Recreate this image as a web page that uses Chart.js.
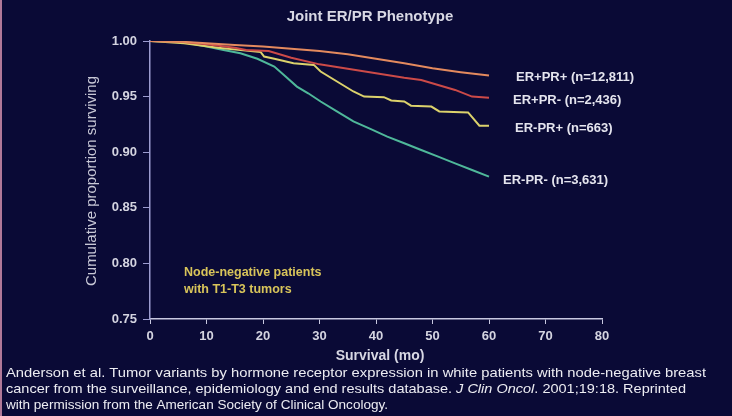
<!DOCTYPE html>
<html>
<head>
<meta charset="utf-8">
<script src="https://cdn.jsdelivr.net/npm/chart.js@4.4.1/dist/chart.umd.min.js"></script>
<style>
  html, body { margin: 0; padding: 0; background: #0a0a36; }
  #wrap { position: relative; width: 732px; height: 416px; box-sizing: border-box; border-left: 2px solid #b07898; }
</style>
</head>
<body>
<div id="wrap"><canvas id="Chart" width="730" height="416"></canvas></div>
<script>
// survival curves (months, cumulative proportion)
const posPosMonths = [0, 5, 10, 15, 20, 25, 30, 35, 40, 45, 50, 55, 60];
const posPosSurv   = [1.000, 0.9995, 0.998, 0.9965, 0.995, 0.993, 0.991, 0.988, 0.984, 0.980, 0.9755, 0.972, 0.969];

const posNegMonths = [0, 5, 10, 15, 17, 21, 25, 30, 35, 40, 45, 48, 54, 57, 60];
const posNegSurv   = [1.000, 0.9995, 0.997, 0.994, 0.992, 0.991, 0.985, 0.979, 0.975, 0.971, 0.967, 0.965, 0.956, 0.950, 0.949];

const negPosMonths = [0, 6, 12, 19.6, 20.2, 22, 25.4, 29, 30.2, 36, 37.9, 41.4, 42.7, 45, 46.2, 49.8, 51.2, 56.3, 58.3, 60];
const negPosSurv   = [1.000, 0.998, 0.994, 0.990, 0.986, 0.984, 0.980, 0.9785, 0.9725, 0.9546, 0.950, 0.9495, 0.9465, 0.9456, 0.9418, 0.941, 0.9367, 0.9358, 0.9238, 0.9238];

const negNegMonths = [0, 5, 7, 10, 13, 16, 19, 22, 24, 26, 28, 30.2, 33, 36, 39, 42, 45, 48, 51, 54, 57, 60];
const negNegSurv   = [1.000, 0.999, 0.998, 0.995, 0.992, 0.989, 0.984, 0.977, 0.968, 0.959, 0.953, 0.9456, 0.937, 0.9277, 0.921, 0.914, 0.908, 0.902, 0.896, 0.890, 0.884, 0.878];

const seriesNames  = ["ER+PR+ (n=12,811)", "ER+PR- (n=2,436)", "ER-PR+ (n=663)", "ER-PR- (n=3,631)"];
const seriesColors = ["#e48a5e", "#cc4a48", "#dcd26c", "#4fb89a"];

const xTicks = [0, 10, 20, 30, 40, 50, 60, 70, 80];
const yTicks = [0.75, 0.80, 0.85, 0.90, 0.95, 1.00];

const chartTitle = "Joint ER/PR Phenotype";
const yTitle = "Cumulative proportion surviving";
const xTitle = "Survival (mo)";
const noteLines = ["Node-negative patients", "with T1-T3 tumors"];

function toPoints(months, surv) {
  return months.map((m, i) => ({ x: m, y: surv[i] }));
}

const allMonths = [posPosMonths, posNegMonths, negPosMonths, negNegMonths];
const allSurv = [posPosSurv, posNegSurv, negPosSurv, negNegSurv];

const textPlugin = {
  id: "texts",
  afterDraw(chart) {
    const ctx = chart.ctx;
    const xs = chart.scales.x;
    const ys = chart.scales.y;
    ctx.save();
    ctx.textBaseline = "middle";

    // title
    ctx.fillStyle = "#d8d8e4";
    ctx.font = "bold 15px Arial, 'Liberation Sans'";
    ctx.textAlign = "center";
    ctx.fillText(chartTitle, 368, 17);

    // y title
    ctx.save();
    ctx.translate(90, 181);
    ctx.rotate(-Math.PI / 2);
    ctx.font = "15px Arial, 'Liberation Sans'";
    ctx.fillStyle = "#c8c8d6";
    ctx.fillText(yTitle, 0, 0);
    ctx.restore();

    // x title
    ctx.font = "bold 14px Arial, 'Liberation Sans'";
    ctx.fillStyle = "#d8d8e4";
    ctx.fillText(xTitle, 378, 356);

    // series labels at the end of each curve
    const labelPos = [[514, 77], [511, 100], [513, 128], [501, 180]];
    ctx.textAlign = "left";
    ctx.font = "bold 13px Arial, 'Liberation Sans'";
    ctx.fillStyle = "#e4e4ee";
    seriesNames.forEach((name, i) => {
      ctx.fillText(name, labelPos[i][0], labelPos[i][1]);
    });

    // note in the plot
    ctx.fillStyle = "#d8c45a";
    ctx.font = "bold 12.5px Arial, 'Liberation Sans'";
    ctx.fillText(noteLines[0], 182, 273);
    ctx.fillText(noteLines[1], 182, 290);

    // footnote
    ctx.fillStyle = "#ececf2";
    const normal = "13px Arial, 'Liberation Sans'";
    const italic = "italic 13px Arial, 'Liberation Sans'";
    const lines = [
      { parts: [["Anderson et al. Tumor variants by hormone receptor expression in white patients with node-negative breast", normal]], width: 700 },
      { parts: [["cancer from the surveillance, epidemiology and end results database. ", normal], ["J Clin Oncol", italic], [". 2001;19:18. Reprinted", normal]], width: 680 },
      { parts: [["with permission from the American Society of Clinical Oncology.", normal]], width: 382 }
    ];
    const lineY = [373, 389, 405];
    lines.forEach((ln, i) => {
      let total = 0;
      ln.parts.forEach(p => { ctx.font = p[1]; total += ctx.measureText(p[0]).width; });
      const sx = ln.width / total;
      ctx.save();
      ctx.translate(4, lineY[i]);
      ctx.scale(sx, 1);
      let x = 0;
      ln.parts.forEach(p => {
        ctx.font = p[1];
        ctx.fillText(p[0], x, 0);
        x += ctx.measureText(p[0]).width;
      });
      ctx.restore();
    });
    ctx.restore();
  }
};

let myChart = new Chart("Chart", {
  type: "line",
  data: {
    datasets: seriesNames.map((name, i) => ({
      label: name,
      data: toPoints(allMonths[i], allSurv[i]),
      borderColor: seriesColors[i],
      borderWidth: 2,
      pointRadius: 0,
      tension: 0,
      fill: false
    }))
  },
  options: {
    responsive: false,
    animation: false,
    layout: { padding: { top: 41, right: 130, left: 0, bottom: 0 } },
    plugins: { legend: { display: false }, tooltip: { enabled: false } },
    scales: {
      x: {
        type: "linear",
        min: 0,
        max: 80,
        afterBuildTicks: s => { s.ticks = xTicks.map(v => ({ value: v })); },
        afterFit: s => { s.height = 97; },
        grid: { drawOnChartArea: false, tickLength: 5, color: "#c8c8e0", tickColor: "#c8c8e0" },
        border: { color: "#c8c8e0", width: 1.5 },
        ticks: { color: "#d4d4e0", font: { family: "Arial", size: 13, weight: "bold" }, padding: 5, maxRotation: 0 }
      },
      y: {
        type: "linear",
        min: 0.75,
        max: 1.0,
        afterBuildTicks: s => { s.ticks = yTicks.map(v => ({ value: v })); },
        afterFit: s => { s.width = 148; },
        grid: { drawOnChartArea: false, tickLength: 7, color: "#9c9cd0", tickColor: "#9c9cd0" },
        border: { color: "#9c9cd0", width: 1.5 },
        ticks: { color: "#d4d4e0", font: { family: "Arial", size: 13, weight: "bold" }, padding: 6, callback: v => v.toFixed(2) }
      }
    }
  },
  plugins: [textPlugin]
});
</script>
</body>
</html>
